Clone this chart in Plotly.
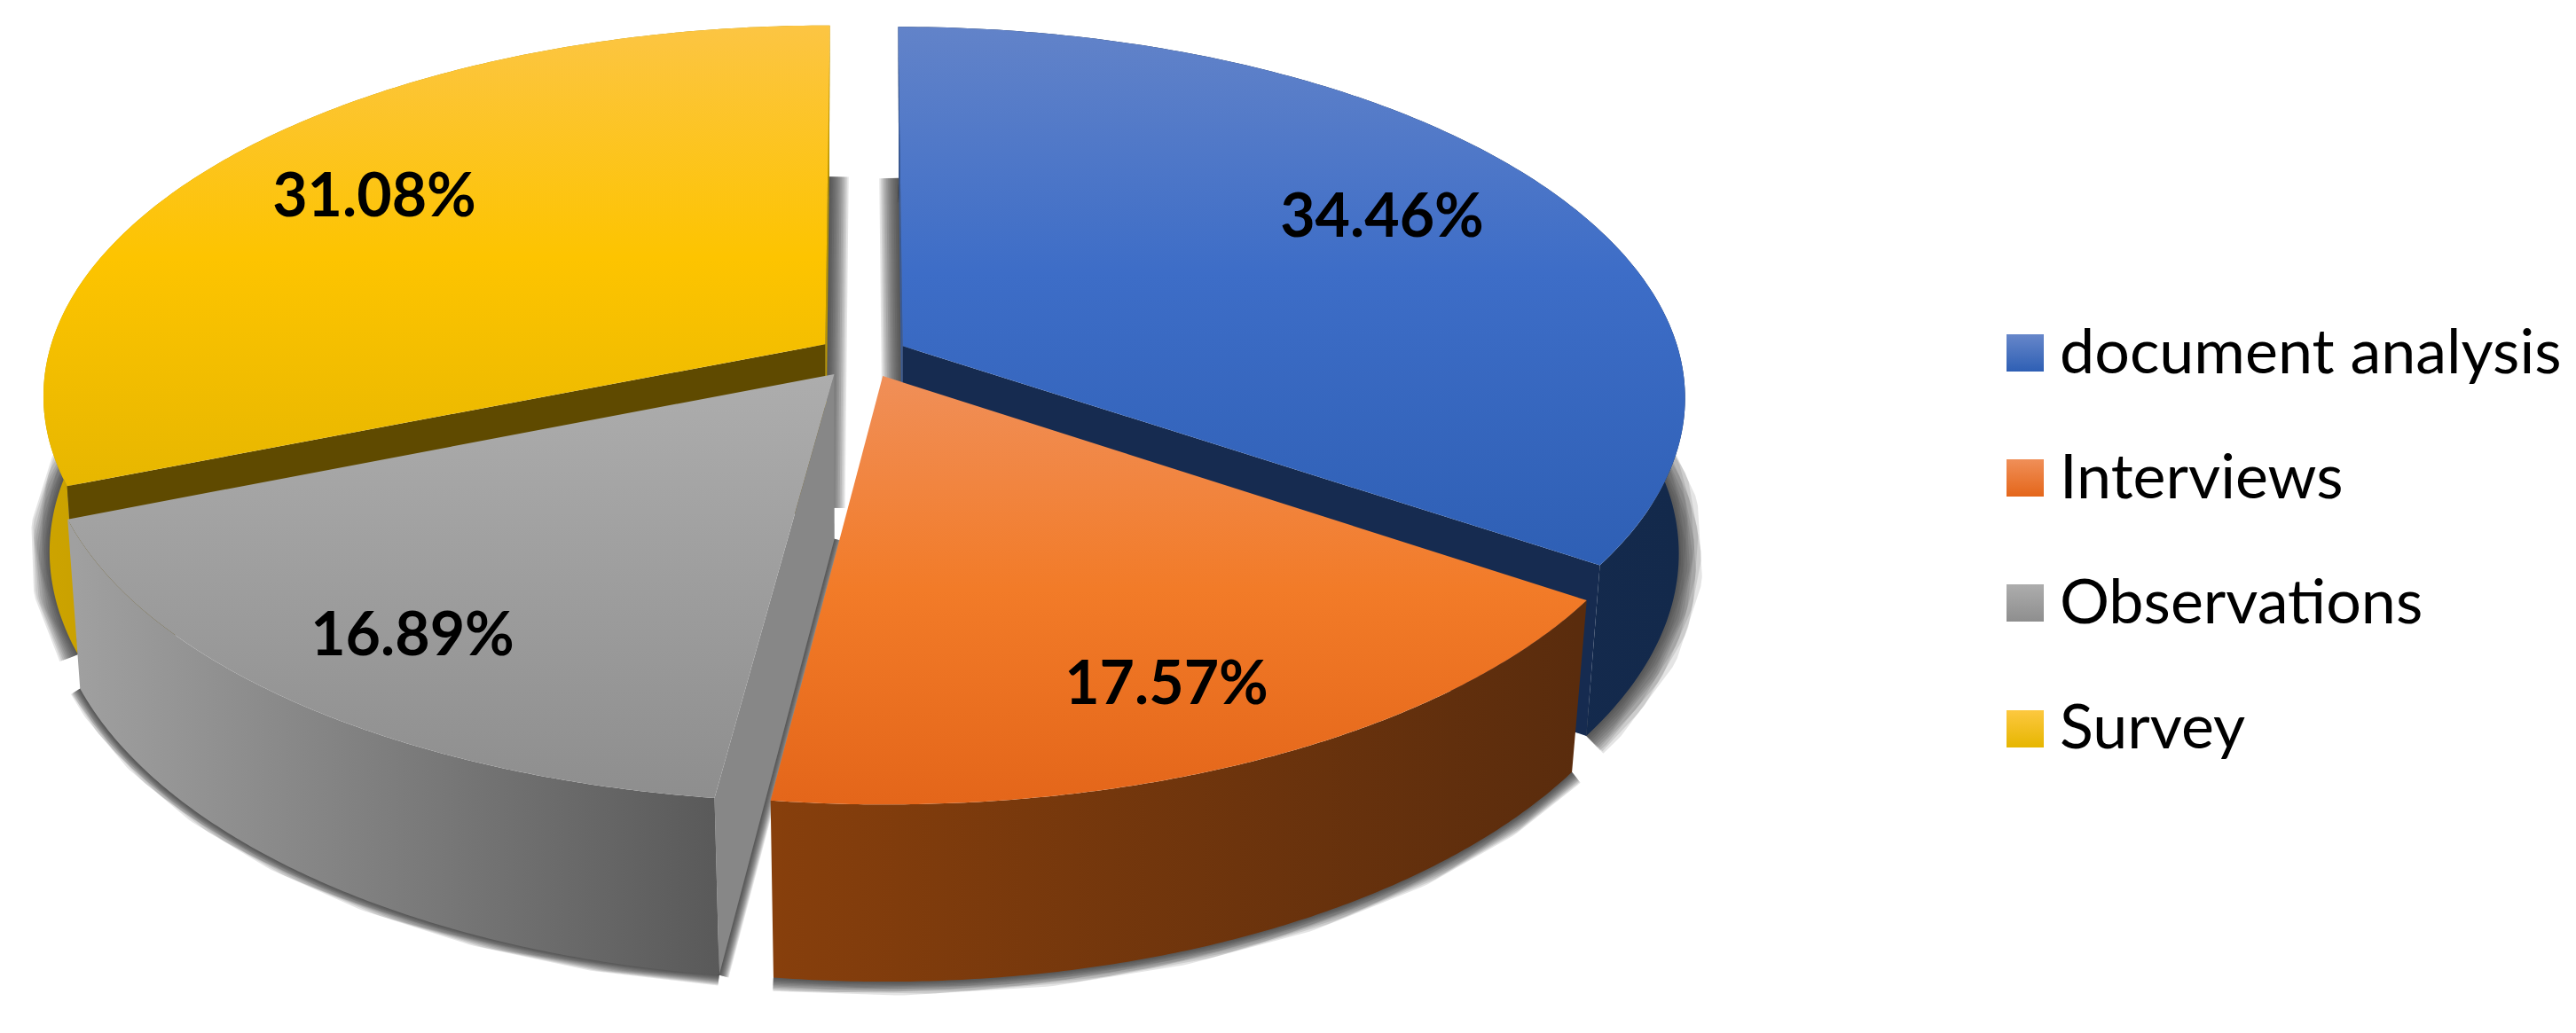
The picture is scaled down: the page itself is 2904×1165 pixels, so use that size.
import numpy as np
import plotly.graph_objects as go

categories = ["document analysis", "Interviews", "Observations", "Survey"]
shares = [34.46, 17.57, 16.89, 31.08]
share_labels = ["34.46%", "17.57%", "16.89%", "31.08%"]

# gradient stops per slice
top_colors = [
    [[0, "#6283c9"], [0.45, "#3d6dc7"], [1, "#2e5fb4"]],
    [[0, "#f08f58"], [0.5, "#f27b28"], [1, "#e4661a"]],
    [[0, "#adadad"], [1, "#8e8e8e"]],
    [[0, "#fcc545"], [0.5, "#fdc400"], [1, "#e6b600"]],
]
swatch_top = ["#6787ca", "#f08f58", "#adadad", "#fdc840"]
swatch_bottom = ["#2e5fb4", "#e4661a", "#8e8e8e", "#e6b600"]

# 3d look of the pie, in page pixels
XC, YC = 974, 400
W, H, K = 876, 411, 0.135
explode = [(0.05, -0.024), (0.024, 0.058), (-0.038, 0.053), (-0.05, -0.029)]
shadow_size = [1.25, 0.7, 0.55, 1.0]
label_pos = [(1558, 250), (1315, 777), (465, 722), (422, 227)]
legend_x, legend_text_x = 2283, 2322
legend_y = [403, 544, 685, 826]


def project(i, ang, r=1.0, bottom=False):
    """Perspective projection of a point on slice i (angle clockwise from 12 o'clock)."""
    U = explode[i][0] + r * np.sin(ang)
    V = explode[i][1] - r * np.cos(ang)
    d = 1 - K * V
    x = W * U / d
    y = YC + H * V / d
    if bottom:
        x *= 0.995 - 0.025 * V
        y += 185 + 14 * V
    return XC + x, y


def poly(fig, x, y, colors=None, color=None, kind="vertical", start=None, stop=None):
    x = np.asarray(x, dtype=float)
    y = np.asarray(y, dtype=float)
    tr = dict(x=x, y=y, mode="none", fill="toself", hoverinfo="skip", showlegend=False)
    if colors:
        tr["fillgradient"] = dict(type=kind, colorscale=colors, start=start, stop=stop)
    else:
        tr["fillcolor"] = color
    fig.add_trace(go.Scatter(**tr))


def soft_line(fig, x, y, size=1.0):
    for w in range(44, 0, -4):
        fig.add_trace(go.Scatter(x=x, y=y, mode="lines", hoverinfo="skip", showlegend=False,
                                 line=dict(color="rgba(50,50,50,0.13)", width=w * size)))


edges = np.concatenate([[0], np.cumsum(shares)]) / sum(shares) * 2 * np.pi
arcs = [np.linspace(edges[i], edges[i + 1], 150) for i in range(4)]

fig = go.Figure()

# shadows under the slices
for i in range(4):
    bx, by = project(i, arcs[i], bottom=True)
    soft_line(fig, bx, by, shadow_size[i])
    ax, ay = project(i, 0.0, r=0.0, bottom=True)
    if i in (0, 3):
        side = 0 if i == 0 else -1
        tx, ty = project(i, arcs[i][side], bottom=True)
        soft_line(fig, [tx, ax], [ty, ay], 1.0)
    if i == 2:
        soft_line(fig, [bx[0], ax], [by[0], ay], 0.5)


def outer_wall(i, colors, start, stop):
    tx, ty = project(i, arcs[i])
    bx, by = project(i, arcs[i], bottom=True)
    poly(fig, np.r_[tx, bx[::-1]], np.r_[ty, by[::-1]], colors=colors, kind="horizontal",
         start=start, stop=stop)


def radial_wall(i, ang, color):
    ax, ay = project(i, ang, r=0.0)
    rx, ry = project(i, ang)
    ax2, ay2 = project(i, ang, r=0.0, bottom=True)
    rx2, ry2 = project(i, ang, bottom=True)
    poly(fig, [ax, rx, rx2, ax2], [ay, ry, ry2, ay2], color=color)


def top_face(i, start, stop):
    tx, ty = project(i, arcs[i])
    ax, ay = project(i, 0.0, r=0.0)
    poly(fig, np.r_[ax, tx], np.r_[ay, ty], colors=top_colors[i], start=start, stop=stop)


# yellow, then blue, grey and orange in front
outer_wall(3, [[0, "#cda400"], [1, "#b89200"]], 50, 300)
radial_wall(3, edges[3], "#5f4a00")
radial_wall(3, edges[4], "#b89400")
top_face(3, 22, 560)

outer_wall(0, [[0, "#152b50"], [1, "#13294b"]], 1500, 1900)
radial_wall(0, edges[1], "#162b50")
radial_wall(0, edges[0], "#3a5a94")
top_face(0, 30, 650)

radial_wall(2, edges[2], "#878787")
outer_wall(2, [[0, "#a0a0a0"], [1, "#595959"]], 85, 812)
top_face(2, 422, 900)

outer_wall(1, [[0, "#873f0c"], [1, "#5a2c0d"]], 868, 1780)
top_face(1, 424, 905)

# percentage labels
fig.add_trace(go.Scatter(
    x=[p[0] for p in label_pos], y=[p[1] for p in label_pos], text=share_labels,
    mode="text", textposition="middle center", hoverinfo="skip", showlegend=False,
    textfont=dict(family="Lato", size=68, color="#000000", weight="bold"),
))

# legend drawn on the page so the swatches can be as big as in the source
fig.add_trace(go.Scatter(
    x=[legend_x] * 4, y=[398, 539, 680, 822], mode="markers", hoverinfo="skip", showlegend=False,
    marker=dict(symbol="square", size=42, color=swatch_top, line=dict(width=0),
                gradient=dict(type="vertical", color=swatch_bottom)),
))
fig.add_trace(go.Scatter(
    x=[legend_text_x] * 4, y=legend_y, text=categories, mode="text",
    textposition="middle right", hoverinfo="skip", showlegend=False,
    textfont=dict(family="Lato", size=70, color="#000000"),
))

fig.update_xaxes(range=[0, 2904], visible=False)
fig.update_yaxes(range=[1165, 0], visible=False)
fig.update_layout(
    width=2904, height=1165,
    margin=dict(l=0, r=0, t=0, b=0),
    plot_bgcolor="white", paper_bgcolor="white",
)

fig.write_html("out.html", config={"displayModeBar": False},
               post_script="document.body.style.margin='0';")
